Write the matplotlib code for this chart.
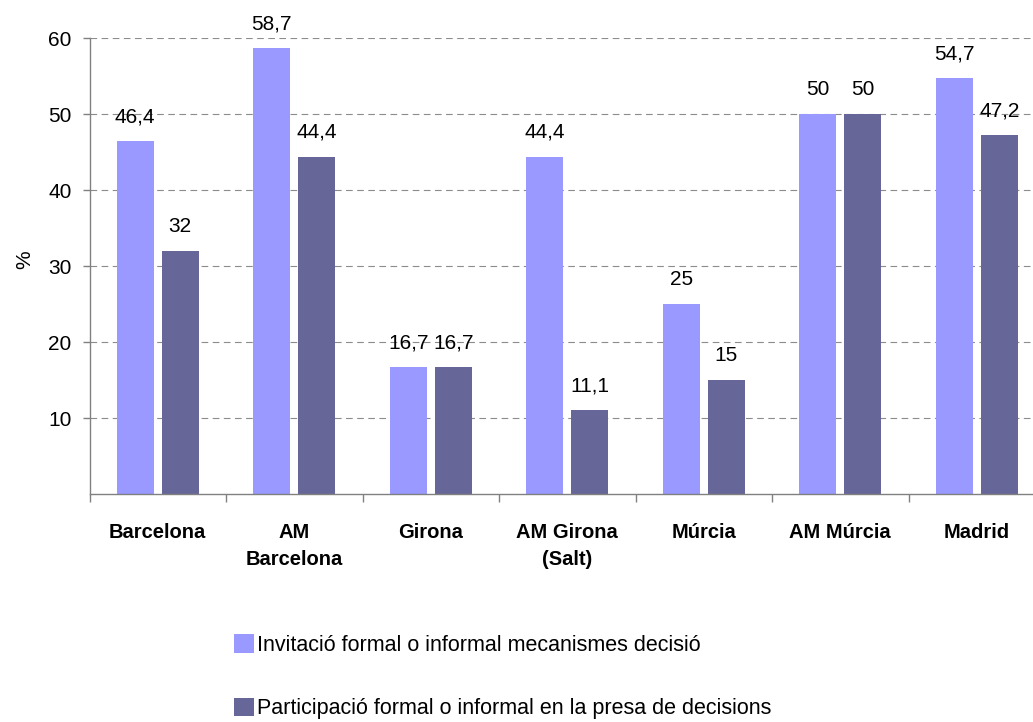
import matplotlib
matplotlib.use("Agg")
import matplotlib.pyplot as plt
import numpy as np

plt.rcParams['font.family'] = ['Liberation Sans', 'DejaVu Sans']

# data
categories = ["Barcelona", "AM\nBarcelona", "Girona", "AM Girona\n(Salt)",
              "Múrcia", "AM Múrcia", "Madrid"]
invitacio = [46.4, 58.7, 16.7, 44.4, 25, 50, 54.7]
participacio = [32, 44.4, 16.7, 11.1, 15, 50, 47.2]
series_names = ["Invitació formal o informal mecanismes decisió",
                "Participació formal o informal en la presa de decisions"]
yticks = [10, 20, 30, 40, 50, 60]

light = '#9999FF'
dark = '#666699'

fig = plt.figure(figsize=(10.33, 7.22), dpi=100)
ax = fig.add_axes([89.5/1033, 1 - 494/722, 955.5/1033, 456/722])

x = np.arange(len(categories))
w = 0.271
off = 0.165
b1 = ax.bar(x - off, invitacio, w, color=light, label=series_names[0], zorder=2)
b2 = ax.bar(x + off, participacio, w, color=dark, label=series_names[1], zorder=2)

def fmt(v):
    s = f"{v:g}"
    return s.replace('.', ',')

for bars, vals in ((b1, invitacio), (b2, participacio)):
    for r, v in zip(bars, vals):
        ax.annotate(fmt(v), (r.get_x() + r.get_width()/2, v),
                    xytext=(0, 10.5), textcoords='offset points',
                    ha='center', va='bottom', fontsize=15, annotation_clip=False)

ax.set_xlim(-0.5, len(categories) - 0.5)
ax.set_ylim(0, 60)
ax.set_yticks(yticks)
ax.tick_params(axis='y', labelsize=15, direction='out', length=5, width=1,
               color='#808080', pad=8)

ax.set_xticks(x)
ax.set_xticklabels(categories, fontsize=14.5, fontweight='bold', linespacing=1.5)
ax.set_xticks(np.arange(len(categories) + 1) - 0.5, minor=True)
ax.tick_params(axis='x', which='major', length=0, pad=21)
ax.tick_params(axis='x', which='minor', direction='out', length=6, width=1,
               color='#808080')

ax.yaxis.grid(True, color='#8c8c8c', linestyle=(0, (6, 4)), linewidth=0.8)
ax.set_axisbelow(True)

for s in ('top', 'right'):
    ax.spines[s].set_visible(False)
for s in ('left', 'bottom'):
    ax.spines[s].set_color('#808080')
    ax.spines[s].set_linewidth(1)

ax.set_ylabel('%', fontsize=15)
ax.yaxis.set_label_coords(-0.058, 0.513)

fig.legend(handles=[b1, b2], loc='upper left',
           bbox_to_anchor=(234/1033, 1 - 634/722), frameon=False,
           fontsize=15.5, borderpad=0, borderaxespad=0,
           handlelength=0.95, handleheight=0.95, handletextpad=0.12,
           labelspacing=1.95)

fig.savefig('out.png', dpi=100)
